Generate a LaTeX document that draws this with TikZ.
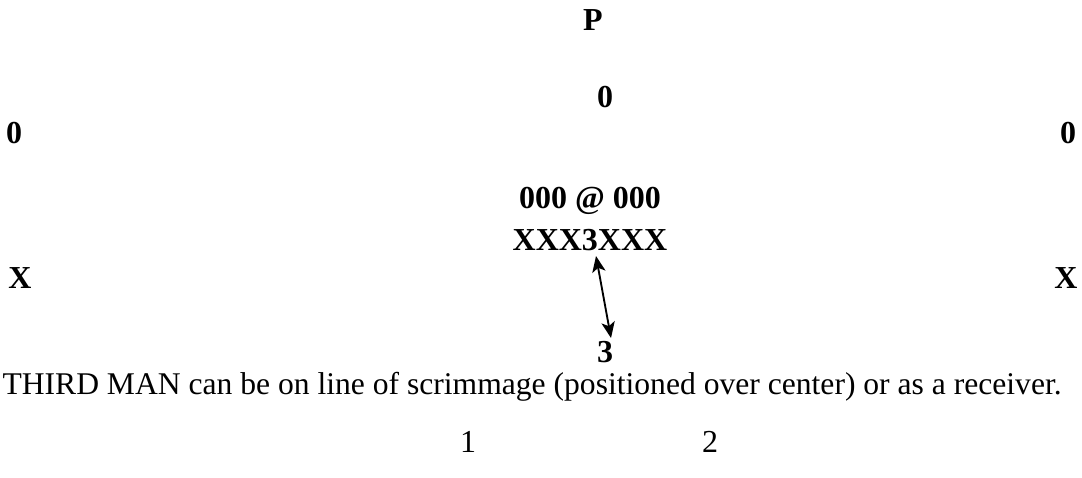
\documentclass[tikz,border=0pt]{standalone}
\usepackage{fontspec}
\setmainfont{Liberation Serif}
\usepackage{tikz}
\usetikzlibrary{arrows,arrows.meta}

\begin{document}
\begin{tikzpicture}[x=0.375pt,y=-0.375pt,auto,font=\fontsize{12}{14}\selectfont\bfseries]
\useasboundingbox (0,0) rectangle (1082,477);
\node (p) at (593,20) {P};
\node (o1) at (605,97) {0};
\node (o2) at (14,133) {0};
\node (o3) at (1068,133) {0};
\node (line) at (590,201) {000 @ 000};
\node (xline) at (590,240) {XXX3XXX};
\node (x1) at (20,278) {X};
\node (x2) at (1066,278) {X};
\node (three) at (605,352) {3};
\coordinate (top) at (596,256);
\coordinate (bot) at (611,338);

\path[every node/.style]
(top) edge [<->,>={Stealth[length=6pt,width=5pt,inset=1.5pt]},line width=0.7pt] (bot);

\node[font=\fontsize{11.85}{14}\selectfont,anchor=west,inner sep=0pt] (note) at (2,387) {THIRD MAN can be on line of scrimmage (positioned over center) or as a receiver.};
\node[font=\fontsize{12}{14}\selectfont] (one) at (468,442) {1};
\node[font=\fontsize{12}{14}\selectfont] (two) at (710,442) {2};
\end{tikzpicture}
\end{document}
